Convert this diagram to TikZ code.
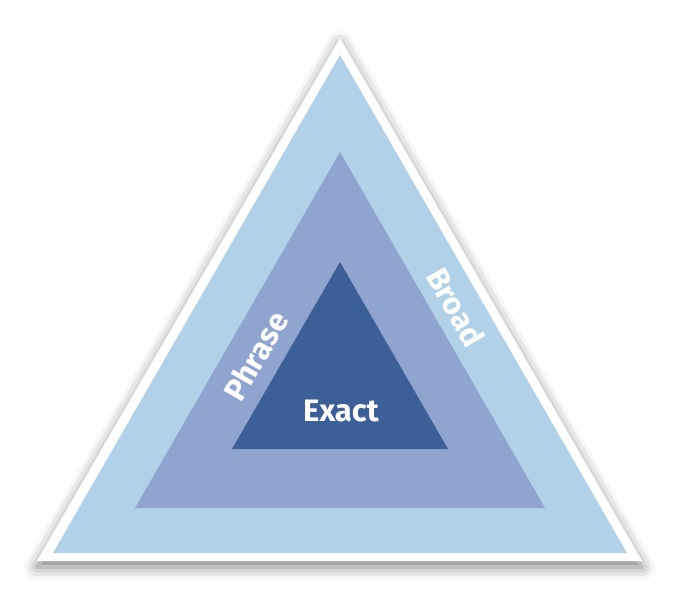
\documentclass[tikz,border=0pt]{standalone}
\usepackage{fontspec}
\setmainfont{Fira Sans}
\usetikzlibrary{shadows.blur}
\definecolor{lightb}{HTML}{B0D1E8}
\definecolor{midb}{HTML}{8FA5CF}
\definecolor{darkb}{HTML}{3D5F98}
\tikzset{lbl/.style={text=white, font=\bfseries\fontsize{31}{31}\selectfont, inner sep=0pt}}
\begin{document}
\begin{tikzpicture}[x=1pt,y=-1pt]
\useasboundingbox (0,0) rectangle (680,599);
\fill[white, blur shadow={shadow xshift=0pt, shadow yshift=-6pt, shadow blur radius=13pt, shadow opacity=50}]
  (340,38) -- (642,561) -- (37,561) -- cycle;
\fill[lightb] (340,55) -- (627,553) -- (53,553) -- cycle;
\fill[midb] (340,152) -- (545,508) -- (135,508) -- cycle;
\fill[darkb] (340,262) -- (448,449) -- (232,449) -- cycle;
\node[lbl] (exact) at (341,411) {Exact};
\node[lbl, rotate=60] (phrase) at (256,356) {Phrase};
\node[lbl, rotate=-60] (broad) at (456,307) {Broad};
\end{tikzpicture}
\end{document}
